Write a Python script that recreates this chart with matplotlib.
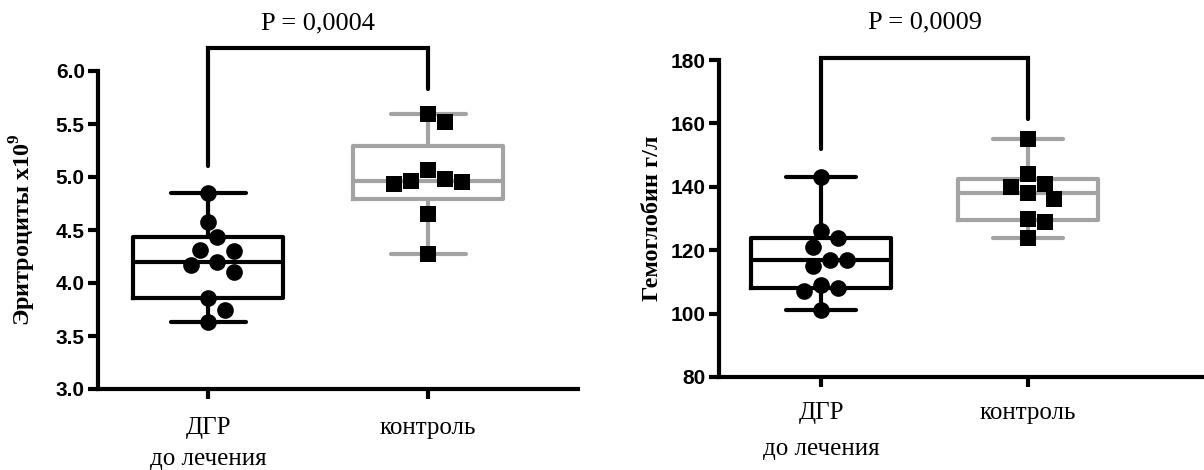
import numpy as np
import matplotlib
matplotlib.use('Agg')
import matplotlib.pyplot as plt

plt.rcParams['mathtext.fontset'] = 'custom'
plt.rcParams['mathtext.rm'] = 'Liberation Serif'
plt.rcParams['mathtext.bf'] = 'Liberation Serif:bold'

groups = ['ДГР\nдо лечения', 'контроль']

# erythrocytes, x10^9
rbc_dgr = [4.85, 4.58, 4.43, 4.31, 4.30, 4.20, 4.17, 4.10, 3.86, 3.75, 3.63]
rbc_ctrl = [5.59, 5.52, 5.07, 4.98, 4.96, 4.95, 4.93, 4.65, 4.27]
# hemoglobin, g/l
hb_dgr = [143, 126, 124, 121, 117, 117, 115, 109, 108, 107, 101]
hb_ctrl = [155, 144, 141, 140, 138, 136, 130, 129, 124]

p_rbc = 'P = 0,0004'
p_hb = 'P = 0,0009'

rbc_ticks = np.arange(3.0, 6.01, 0.5)
hb_ticks = np.arange(80, 181, 20)

LW = 3.0
GRAY = '#a3a3a3'
SERIF = 'Liberation Serif'
SANS = 'Liberation Sans'


def box_stats(vals):
    q1, med, q3 = np.percentile(vals, [25, 50, 75], method='weibull')
    return dict(med=med, q1=q1, q3=q3, whislo=min(vals), whishi=max(vals), fliers=[])


def swarm_x(ax, x0, vals, step_px=8.5, min_px=17.0):
    # simple beeswarm: shift points sideways in half-marker steps until they stop colliding
    fig = ax.figure
    bb = ax.get_position()
    w = bb.width * fig.get_figwidth() * fig.dpi
    h = bb.height * fig.get_figheight() * fig.dpi
    xl = ax.get_xlim()
    yl = ax.get_ylim()
    sx = w / (xl[1] - xl[0])
    sy = h / (yl[1] - yl[0])
    placed = []
    xs, ys = [], []
    for v in sorted(vals, reverse=True):
        y = v * sy
        k = 0
        while True:
            off = ((k + 1) // 2) * (1 if k % 2 else -1) * step_px
            if all(np.hypot(off - px, y - py) >= min_px for px, py in placed):
                break
            k += 1
        placed.append((off, y))
        xs.append(x0 + off / sx)
        ys.append(v)
    return xs, ys


def panel(ax, dgr, ctrl, ylim, ticks, fmt, ylabel, ptext, bracket, ptext_y,
          xlim, label_x, linesp, xpad):
    ax.set_xlim(*xlim)
    ax.set_ylim(*ylim)
    for i, (vals, col, mk) in enumerate([(dgr, 'black', 'o'), (ctrl, GRAY, 's')]):
        ax.bxp([box_stats(vals)], positions=[i], widths=0.68, capwidths=0.34,
               showfliers=False, manage_ticks=False,
               boxprops=dict(color=col, lw=LW),
               whiskerprops=dict(color=col, lw=LW, solid_capstyle='round'),
               capprops=dict(color=col, lw=LW, solid_capstyle='round'),
               medianprops=dict(color=col, lw=LW))
        xs, ys = swarm_x(ax, i, vals)
        ax.plot(xs, ys, ls='none', marker=mk, ms=12,
                mfc='black', mec='black', mew=0, zorder=5)

    # significance bracket
    yl, ytop, yr = bracket
    ax.plot([0, 0, 1, 1], [yl, ytop, ytop, yr], color='black', lw=LW,
            clip_on=False, solid_capstyle='round', solid_joinstyle='miter')
    ax.text(0.5, ptext_y, ptext, ha='center', va='center', fontsize=19,
            family=SERIF)

    ax.spines['top'].set_visible(False)
    ax.spines['right'].set_visible(False)
    for s in ('left', 'bottom'):
        ax.spines[s].set_linewidth(LW)
    ax.set_yticks(ticks)
    ax.set_yticklabels([fmt.format(t) for t in ticks], fontsize=15,
                       fontweight='bold', family=SANS)
    ax.set_xticks([0, 1])
    ax.set_xticklabels(groups, fontsize=18, family=SERIF)
    for lab in ax.get_xticklabels():
        lab.set_linespacing(linesp)
    ax.tick_params(axis='both', length=7.5, width=LW, direction='out')
    ax.tick_params(axis='x', pad=xpad)
    ax.tick_params(axis='y', pad=2)
    ax.set_ylabel(ylabel, fontsize=17.5, fontweight='bold', family=SERIF)
    ax.yaxis.set_label_coords(label_x, 0.5)


fig = plt.figure(figsize=(12.04, 4.70), dpi=100)
ax1 = fig.add_axes([98 / 1204, 81 / 470, 480 / 1204, 318 / 470])
ax2 = fig.add_axes([719 / 1204, 93 / 470, 485 / 1204, 317 / 470])

panel(ax1, rbc_dgr, rbc_ctrl, (3.0, 6.0), rbc_ticks, '{:.1f}',
      r'Эритроциты x10$^{\mathbf{9}}$', p_rbc, (5.10, 6.22, 5.83), 6.45,
      (-0.5, 1.68), -0.125, 1.5, 13)
panel(ax2, hb_dgr, hb_ctrl, (80, 180), hb_ticks, '{:.0f}',
      'Гемоглобин г/л', p_hb, (152, 180.6, 161.5), 191.8,
      (-0.493, 1.85), -0.115, 1.85, 10.5)

fig.savefig('out.png', dpi=100)
